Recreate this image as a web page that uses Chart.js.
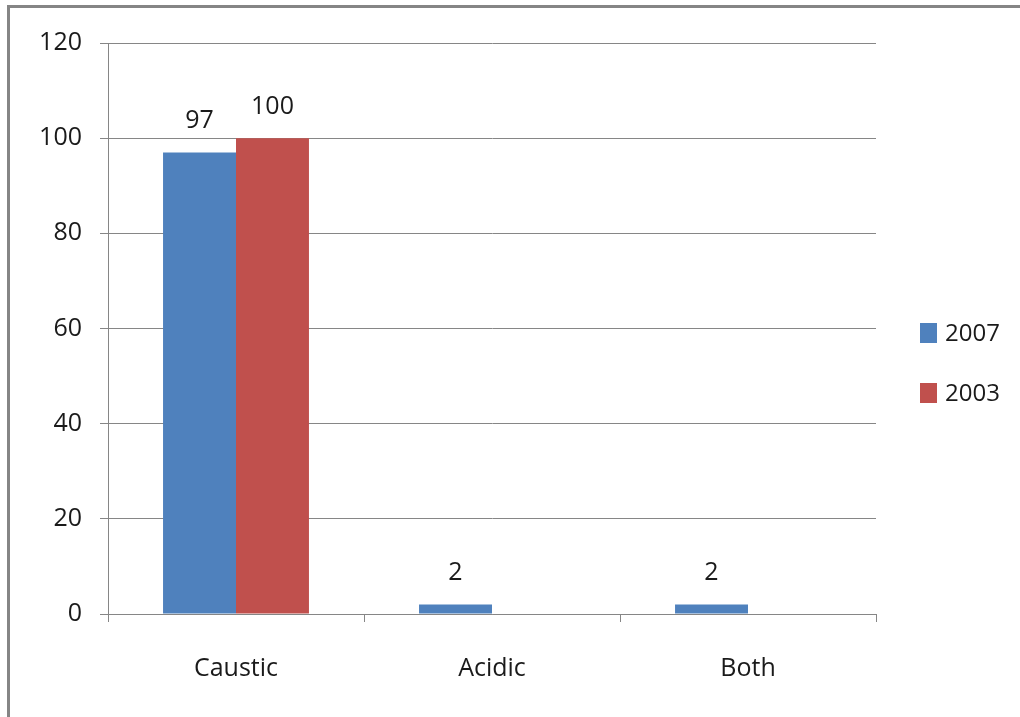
<!DOCTYPE html>
<html>
<head>
<meta charset="utf-8">
<title>Caustic / Acidic / Both</title>
<script src="https://cdn.jsdelivr.net/npm/chart.js@4/dist/chart.umd.min.js"></script>
<style>
  html, body { margin: 0; padding: 0; background: #ffffff; }
  #wrap { position: relative; width: 1020px; height: 717px; overflow: hidden; background: #ffffff; }
  #frame {
    position: absolute; left: 7px; top: 5px; width: 1100px; height: 800px;
    border-top: 3px solid #858585; border-left: 3px solid #858585;
    box-sizing: border-box; pointer-events: none;
  }
  canvas { position: absolute; left: 0; top: 0; }
</style>
</head>
<body>
<div id="wrap">
  <canvas id="chart" width="1020" height="717"></canvas>
  <div id="frame"></div>
</div>
<script>
// Categories and series values
const categories = ['Caustic', 'Acidic', 'Both'];
const seriesNames = ['2007', '2003'];
const values2007 = [97, 2, 2];
const values2003 = [100, null, null];
const yTicks = [0, 20, 40, 60, 80, 100, 120];

const seriesColors = ['#4F81BD', '#C0504D'];
const textColor = '#1a1a1a';
const lineColor = '#868686';
const fontFamily = "'Open Sans', 'Liberation Sans', sans-serif";

// Value labels drawn above each bar
const valueLabels = {
  id: 'valueLabels',
  afterDatasetsDraw(chart) {
    const ctx = chart.ctx;
    ctx.save();
    ctx.font = '25px ' + fontFamily;
    ctx.fillStyle = textColor;
    ctx.textAlign = 'center';
    ctx.textBaseline = 'alphabetic';
    chart.data.datasets.forEach((ds, di) => {
      const meta = chart.getDatasetMeta(di);
      meta.data.forEach((bar, i) => {
        const v = ds.data[i];
        if (v === null || v === undefined) return;
        ctx.fillText(String(v), bar.x, bar.y - 24);
      });
    });
    ctx.restore();
  }
};

// Legend drawn at the right, one row per series
const sideLegend = {
  id: 'sideLegend',
  afterDraw(chart) {
    const ctx = chart.ctx;
    const rowY = [333, 393];
    ctx.save();
    ctx.font = '24px ' + fontFamily;
    ctx.textAlign = 'left';
    ctx.textBaseline = 'middle';
    chart.data.datasets.forEach((ds, di) => {
      const y = rowY[di];
      ctx.fillStyle = ds.backgroundColor;
      ctx.fillRect(920, y - 10, 17, 20);
      ctx.fillStyle = textColor;
      ctx.fillText(ds.label, 945, y + 1);
    });
    ctx.restore();
  }
};

function build() {
  Chart.defaults.font.family = fontFamily;
  Chart.defaults.font.size = 25;
  Chart.defaults.color = textColor;

  new Chart(document.getElementById('chart'), {
    type: 'bar',
    data: {
      labels: categories,
      datasets: [
        { label: seriesNames[0], data: values2007, backgroundColor: seriesColors[0] },
        { label: seriesNames[1], data: values2003, backgroundColor: seriesColors[1] }
      ]
    },
    options: {
      responsive: false,
      animation: false,
      events: [],
      layout: { padding: { top: 43, right: 144, bottom: 0, left: 0 } },
      datasets: { bar: { categoryPercentage: 0.57, barPercentage: 1.0, borderWidth: 0 } },
      plugins: {
        legend: { display: false },
        tooltip: { enabled: false }
      },
      scales: {
        x: {
          afterFit(scale) { scale.height = 103; },
          grid: {
            offset: true,
            drawOnChartArea: false,
            drawTicks: true,
            tickLength: 8,
            color: lineColor,
            lineWidth: 1
          },
          border: { display: true, color: lineColor, width: 1 },
          ticks: { padding: 32, color: textColor, font: { size: 25 } }
        },
        y: {
          min: 0,
          max: 120,
          afterFit(scale) { scale.width = 108; },
          afterBuildTicks(scale) { scale.ticks = yTicks.map(v => ({ value: v })); },
          grid: {
            drawTicks: true,
            tickLength: 8,
            color: lineColor,
            lineWidth: 1
          },
          border: { display: true, color: lineColor, width: 1 },
          ticks: { padding: 18, color: textColor, font: { size: 25 } }
        }
      }
    },
    plugins: [valueLabels, sideLegend]
  });
}

if (document.fonts && document.fonts.load) {
  document.fonts.load('25px "Open Sans"').then(build, build);
} else {
  build();
}
</script>
</body>
</html>
